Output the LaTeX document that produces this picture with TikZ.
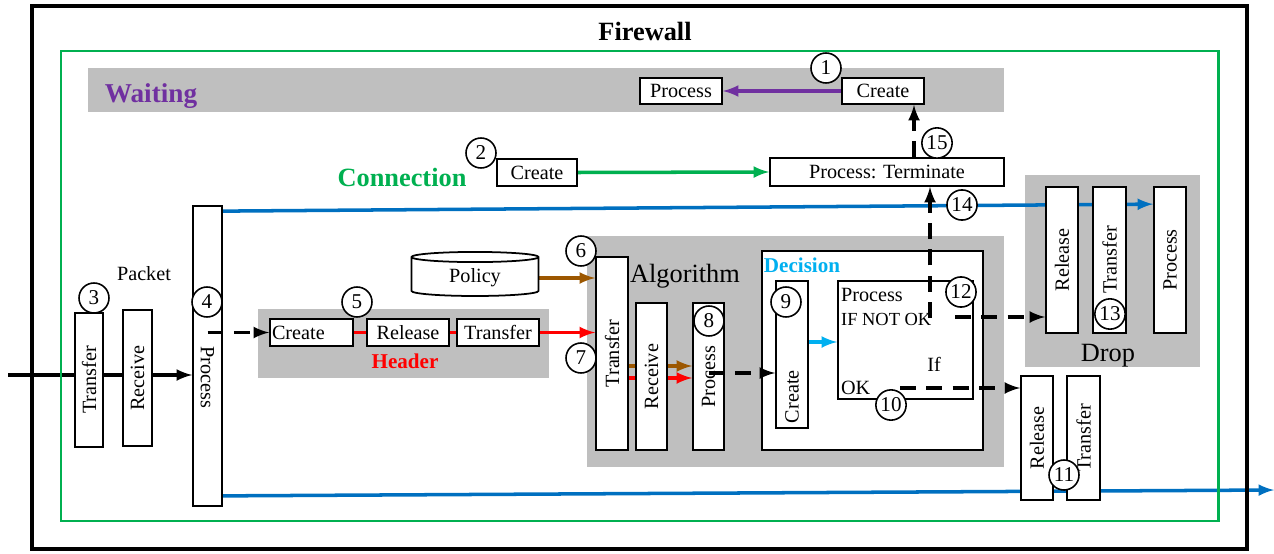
\documentclass[tikz,border=0pt]{standalone}
\usepackage{fontspec}
\setmainfont{Liberation Serif}
\usetikzlibrary{shapes.geometric, calc}

\definecolor{wpurple}{RGB}{112,48,160}
\definecolor{cgreen}{RGB}{0,176,80}
\definecolor{pblue}{RGB}{0,112,192}
\definecolor{dcyan}{RGB}{0,176,240}
\definecolor{pbrown}{RGB}{156,87,0}
\definecolor{band}{RGB}{191,191,191}

\pgfdeclarelayer{bands}
\pgfdeclarelayer{links}
\pgfsetlayers{bands,links,main}

\newcommand{\up}[1]{\rotatebox{90}{#1}}
\newcommand{\down}[1]{\rotatebox{-90}{#1}}

\tikzset{
	sz/.style 2 args = {minimum width = #1*0.02cm, minimum height = #2*0.02cm},
	box/.style = {draw, line width = 1pt, fill = white, inner sep = 0pt},
	num/.style = {circle, draw, line width = 0.9pt, fill = white, inner sep = 1pt, minimum size = 30*0.02cm, font = \fontsize{12}{14}\selectfont},
	flow/.style = {line width = 2pt},
	dash arrow/.style = {line width = 2pt, dash pattern = on 9pt off 6pt, ->}
}

\begin{document}
\begin{tikzpicture}[> = latex, x = 0.02cm, y = -0.02cm, font = \fontsize{11.5}{13}\selectfont]

	\useasboundingbox (0, 0) rectangle (1274, 554);

	% Frames

	\draw [line width = 2.4pt] (32, 6) rectangle (1247, 549);
	\draw [line width = 1.7pt, cgreen] (61, 51) rectangle (1218, 521);
	\node [font = \fontsize{15}{17}\selectfont\bfseries] (fw) at (645, 31) {Firewall};

	% Grey bands

	\begin{pgfonlayer}{bands}
		\fill [band] (88, 68) rectangle (1004, 112);
		\fill [band] (258, 309) rectangle (549, 378);
		\fill [band] (587, 236) rectangle (1004, 467);
		\fill [band] (1025, 175) rectangle (1200, 367);
		\node [box, sz = {221}{199}] (dec) at (872.5, 350.5) {};
		\node [box, sz = {135}{118}] (ifbox) at (905.5, 340) {};
	\end{pgfonlayer}

	% Waiting + Connection

	\node [font = \fontsize{15.5}{17}\selectfont\bfseries, wpurple] (wait) at (151, 96) {Waiting};
	\node [box, sz = {82}{26}] (wproc) at (681, 91) {Process};
	\node [box, sz = {82}{26}] (wcreate) at (883, 91) {Create};

	\node [font = \fontsize{15}{17}\selectfont\bfseries, cgreen] (conn) at (402, 177) {Connection};
	\node [box, sz = {80}{27}] (ccreate) at (537, 172.5) {Create};
	\node [box, sz = {234}{28}] (term) at (887, 172) {Process: Terminate};

	% Packet

	\node (pkt) at (144, 274) {Packet};
	\node [box, sz = {28}{134}] (ptr) at (89, 380) {\up{Transfer}};
	\node [box, sz = {29}{136}] (prec) at (137.5, 378) {\up{Receive}};
	\node [box, sz = {29}{300}] (pproc) at (207.5, 356) {\down{\hspace{24pt}Process}};

	% Header

	\node [box, sz = {83}{27}, text width = 79*0.02cm] (hcreate) at (311.5, 332.5) {Create};
	\node [box, sz = {82}{27}] (hrel) at (408, 332.5) {Release};
	\node [box, sz = {82}{27}] (htr) at (498, 332.5) {Transfer};
	\node [font = \fontsize{12}{14}\selectfont\bfseries, red] (head) at (405, 361) {Header};

	% Algorithm

	\node [cylinder, shape border rotate = 90, draw, line width = 1pt, fill = white, aspect = 0.16,
		minimum width = 127*0.02cm, minimum height = 39*0.02cm] (policy) at (475, 278) {Policy};
	\node [font = \fontsize{15}{17}\selectfont] (alg) at (685, 276) {Algorithm};
	\node [box, sz = {32}{193}] (atr) at (612, 353.5) {\up{Transfer}};
	\node [box, sz = {31}{147}] (arec) at (651.5, 376.5) {\up{Receive}};
	\node [box, sz = {31}{147}] (aproc) at (708.5, 376.5) {\up{Process}};

	% Decision

	\node [font = \fontsize{12}{14}\selectfont\bfseries, dcyan] (decl) at (802, 265) {Decision};
	\node [box, sz = {32}{147}] (dcreate) at (792, 354.5) {\up{Create\hspace{48pt}}};
	\node [anchor = west, inner sep = 1pt] (ifproc) at (839, 295) {Process};
	\node [anchor = west, inner sep = 1pt, font = \fontsize{10.5}{12}\selectfont] (ifnot) at (839, 319) {IF NOT OK};
	\node (iftxt) at (934, 364) {If};
	\node [anchor = west, inner sep = 1pt] (ifok) at (839, 388) {OK};

	% Drop

	\node [box, sz = {32}{146}] (drel) at (1062, 260) {\up{Release}};
	\node [box, sz = {33}{146}] (dtr) at (1109.5, 260) {\up{Transfer}};
	\node [box, sz = {32}{146}] (dproc) at (1170, 260) {\up{Process}};
	\node [font = \fontsize{15}{17}\selectfont] (drop) at (1108, 356) {Drop};

	\node [box, sz = {32}{124}] (lrel) at (1037, 438) {\up{Release}};
	\node [box, sz = {33}{124}] (ltr) at (1083.5, 438) {\up{Transfer}};

	% Solid connectors (behind the boxes)

	\coordinate (in) at (8, 375);
	\coordinate (out) at (1274, 490);
	\coordinate (br) at (628, 366);
	\coordinate (rd) at (628, 378);

	\begin{pgfonlayer}{links}
		\draw [flow, ->] (in) -- (in -| pproc.west);
		\draw [flow, wpurple, ->] (wcreate.west) -- (wproc.east);
		\draw [flow, cgreen, ->] (ccreate.east) -- (term.west);
		\draw [flow, red] (hcreate.east) -- (hrel.west);
		\draw [flow, red] (hrel.east) -- (htr.west);
		\draw [flow, red, ->] (htr.east) -- (htr.east -| atr.west);
		\draw [flow, pbrown, ->] (policy.east) -- (policy.east -| atr.west);
		\draw [flow, pbrown, ->] (br) -- (br -| aproc.west);
		\draw [flow, red, ->] (rd) -- (rd -| aproc.west);
		\draw [flow, dcyan, ->] (dcreate.east |- 0, 342) -- (ifbox.west |- 0, 342);
		\draw [flow, pblue, ->] ($(pproc.north east) + (0, 6)$) -- ($(dproc.north west) + (0, 18)$);
		\draw [flow, pblue, ->] ($(pproc.south east) + (0, -11)$) -- (out);
	\end{pgfonlayer}

	% Dashed connectors

	\coordinate (up15) at (914, 0);
	\coordinate (up14) at (930, 318);
	\coordinate (nok) at (955, 317);
	\coordinate (ok) at (900, 388);

	\draw [dash arrow] (pproc.center |- hcreate.west) -- (hcreate.west);
	\draw [dash arrow] (aproc.center |- 0, 373) -- (dcreate.west |- 0, 373);
	\draw [dash arrow] (up14) -- (up14 |- term.south);
	\draw [dash arrow] (up15 |- term.north) -- (up15 |- wcreate.south);
	\draw [dash arrow] (nok) -- (nok -| drel.west);
	\draw [dash arrow] (ok) -- (ok -| lrel.west);

	% Step numbers

	\node [num] (n1) at (826, 68) {1};
	\node [num] (n2) at (481, 153) {2};
	\node [num] (n3) at (94, 298) {3};
	\node [num] (n4) at (207, 302) {4};
	\node [num] (n5) at (357, 302) {5};
	\node [num] (n6) at (581, 251) {6};
	\node [num] (n7) at (581, 358) {7};
	\node [num] (n8) at (709, 321) {8};
	\node [num] (n9) at (786, 302) {9};
	\node [num] (n10) at (891, 405) {10};
	\node [num] (n11) at (1064, 475) {11};
	\node [num] (n12) at (961, 292) {12};
	\node [num] (n13) at (1110, 314) {13};
	\node [num] (n14) at (962, 205) {14};
	\node [num] (n15) at (937, 143) {15};

\end{tikzpicture}
\end{document}
